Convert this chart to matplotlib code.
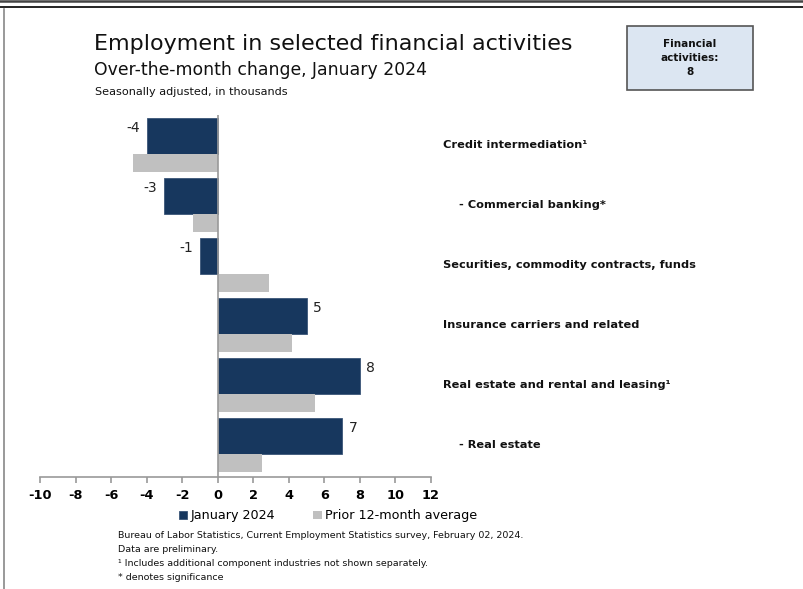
import numpy as np
import matplotlib
matplotlib.use('Agg')
from matplotlib import pyplot as plt
from matplotlib.lines import Line2D
from matplotlib.patches import Rectangle
import matplotlib.transforms as mtransforms

plt.rcParams['font.family'] = ['DejaVu Sans']

# data
categories = ['Credit intermediation\u00b9',
              '    - Commercial banking*',
              'Securities, commodity contracts, funds',
              'Insurance carriers and related',
              'Real estate and rental and leasing\u00b9',
              '    - Real estate']
jan_2024 = [-4, -3, -1, 5, 8, 7]
prior_avg = [-4.75, -1.4, 2.9, 4.2, 5.45, 2.5]
jan_labels = ['-4', '-3', '-1', '5', '8', '7']
xticks = list(range(-10, 13, 2))

navy = '#17375e'
grey = '#c0c0c0'

W, H = 804, 589
fig = plt.figure(figsize=(W/100, H/100), dpi=100)

def fx(px):
    return px/W

def fy(py):
    return 1 - py/H

# axes placed so that -10 -> 40px, 12 -> 431px
ax = fig.add_axes([fx(40), fy(476.7), fx(431) - fx(40), fy(115) - fy(476.7)])

pos = np.arange(len(categories))
ax.barh(pos + 0.3, jan_2024, height=0.6, color=navy, edgecolor='#3b5578', linewidth=0.6,
        label='January 2024', zorder=2)
ax.barh(pos + 0.745, prior_avg, height=0.29, color=grey, linewidth=0,
        label='Prior 12-month average', zorder=2)

ax.set_xlim(-10, 12)
ax.set_ylim(5.973, -0.055)
ax.axvline(0, color='#999999', lw=1.2, zorder=3)

for s in ['top', 'right', 'left']:
    ax.spines[s].set_visible(False)
ax.spines['bottom'].set_color('#999999')
ax.spines['bottom'].set_linewidth(1.2)
ax.set_yticks([])
ax.set_xticks(xticks)
ax.set_xticklabels([str(t) for t in xticks], fontweight='bold', fontsize=9.3)
ax.tick_params(axis='x', direction='out', length=4, color='#999999', width=1.2, pad=5)

# value labels
for i, (v, lab) in enumerate(zip(jan_2024, jan_labels)):
    if v < 0:
        ax.annotate(lab, (v, i + 0.16), xytext=(-5, 0), textcoords='offset points',
                    ha='right', va='center', fontsize=10, color='#222222')
    else:
        ax.annotate(lab, (v, i + 0.16), xytext=(4.5, 0), textcoords='offset points',
                    ha='left', va='center', fontsize=10, color='#222222')

# category labels on the right
trans = mtransforms.blended_transform_factory(fig.transFigure, ax.transData)
for i, c in enumerate(categories):
    ax.text(fx(443), i + 0.44, c, transform=trans, ha='left', va='center',
            fontsize=8.2, fontweight='bold', color='#111111', clip_on=False)

# titles
fig.text(fx(94), fy(44), 'Employment in selected financial activities',
         fontsize=16.0, va='center', ha='left', color='#111111')
fig.text(fx(94), fy(70), 'Over-the-month change, January 2024',
         fontsize=12.45, va='center', ha='left', color='#111111')
fig.text(fx(95), fy(92), 'Seasonally adjusted, in thousands',
         fontsize=8.1, va='center', ha='left', color='#111111')

# box on the top right
fig.patches.append(Rectangle((fx(627), fy(90)), fx(753) - fx(627), fy(26) - fy(90),
                             transform=fig.transFigure, facecolor='#dce6f2',
                             edgecolor='#555555', lw=1.2))
fig.text(fx(690), fy(58), 'Financial\nactivities:\n8', ha='center', va='center',
         fontsize=7.5, fontweight='bold', linespacing=1.45, color='#111111')

# legend
fig.legend(loc='center', bbox_to_anchor=(fx(328), fy(516)), ncol=2, frameon=False,
           fontsize=9.2, handlelength=0.65, handleheight=0.65, handletextpad=0.25,
           columnspacing=3.0, borderaxespad=0)

# footnotes
notes = ['Bureau of Labor Statistics, Current Employment Statistics survey, February 02, 2024.',
         'Data are preliminary.',
         '\u00b9 Includes additional component industries not shown separately.',
         '* denotes significance']
for k, n in enumerate(notes):
    fig.text(fx(118), fy(535 + 14*k), n, fontsize=6.8, va='center', ha='left',
             color='#111111')

# page border lines
fig.add_artist(Line2D([0, 1], [fy(0.8), fy(0.8)], transform=fig.transFigure,
                      color='#444444', lw=1.8))
fig.add_artist(Line2D([0, 1], [fy(6.6), fy(6.6)], transform=fig.transFigure,
                      color='black', lw=1.2))
fig.add_artist(Line2D([fx(4), fx(4)], [fy(8.5), 0], transform=fig.transFigure,
                      color='#888888', lw=1.2))

fig.savefig('out.png', dpi=100, facecolor='white')
